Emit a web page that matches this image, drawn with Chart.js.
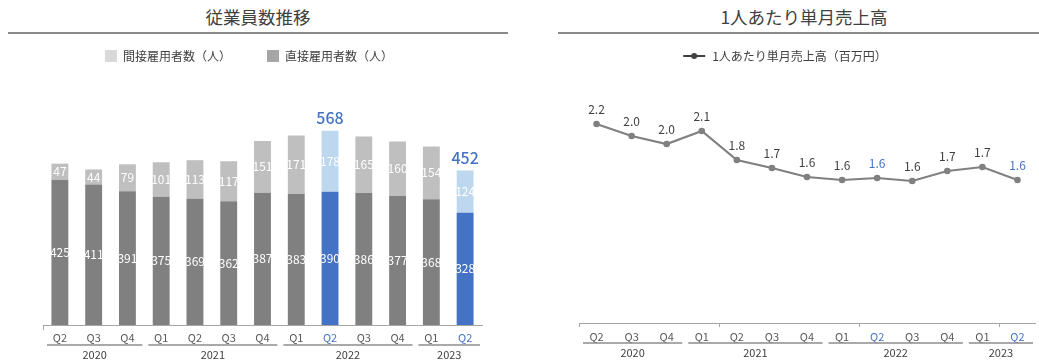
<!DOCTYPE html>
<html>
<head>
<meta charset="utf-8">
<script src="https://cdn.jsdelivr.net/npm/chart.js@4.4.0/dist/chart.umd.min.js"></script>
<style>
  body { margin: 0; background: #fff; width: 1039px; height: 362px; overflow: hidden; position: relative; font-family: "Noto Sans CJK JP", "Noto Sans", sans-serif; }
  .title { position: absolute; top: 5px; height: 24px; line-height: 24px; font-size: 17.5px; color: #404040; text-align: center; }
  .rule { position: absolute; top: 32px; height: 2px; background: #8a8a8a; }
  canvas { position: absolute; top: 0; }
</style>
</head>
<body>
<div class="title" style="left:0; width:516px;">従業員数推移</div>
<div class="rule" style="left:8px; width:500px;"></div>
<div class="title" style="left:570px; width:468px;">1人あたり単月売上高</div>
<div class="rule" style="left:558px; width:481px;"></div>

<canvas id="staffChart" width="493" height="362" style="left:0;"></canvas>
<canvas id="salesChart" width="509" height="362" style="left:530px;"></canvas>

<script>
// データ
const quarters = ['Q2', 'Q3', 'Q4', 'Q1', 'Q2', 'Q3', 'Q4', 'Q1', 'Q2', 'Q3', 'Q4', 'Q1', 'Q2'];
const years = ['2020', '2021', '2022', '2023'];
const yearSpans = [3, 4, 4, 2];
const directStaff = [425, 411, 391, 375, 369, 362, 387, 383, 390, 386, 377, 368, 328];
const indirectStaff = [47, 44, 79, 101, 113, 117, 151, 171, 178, 165, 160, 154, 124];
const salesPerHead = [2.16, 2.04, 1.96, 2.09, 1.80, 1.72, 1.63, 1.60, 1.62, 1.59, 1.69, 1.73, 1.60];

const highlight = [8, 12];   // 強調する四半期
const BLUE = '#4472c4';
const TEXT = '#404040';

Chart.defaults.font.family = '"Noto Sans CJK JP", "Noto Sans", sans-serif';
Chart.defaults.color = TEXT;

// 年のグループラベル
const yearGroups = {
    id: 'yearGroups',
    afterDraw(chart) {
        const { ctx, scales: { x } } = chart;
        const half = (x.getPixelForValue(1) - x.getPixelForValue(0)) / 2;
        let start = 0;
        ctx.save();
        years.forEach((yr, k) => {
            const end = start + yearSpans[k] - 1;
            const x1 = x.getPixelForValue(start) - half + 4;
            const x2 = x.getPixelForValue(end) + half - 2;
            ctx.strokeStyle = '#8c8c8c';
            ctx.lineWidth = 1.5;
            ctx.beginPath();
            ctx.moveTo(x1, x.top + 20);
            ctx.lineTo(x2, x.top + 20);
            ctx.stroke();
            ctx.fillStyle = TEXT;
            ctx.font = '11px "Noto Sans CJK JP"';
            ctx.textAlign = 'center';
            ctx.textBaseline = 'middle';
            ctx.fillText(yr, (x1 + x2) / 2, x.top + 30);
            start = end + 1;
        });
        ctx.restore();
    }
};

// 棒の中の数値と合計
const barLabels = {
    id: 'barLabels',
    afterDatasetsDraw(chart) {
        const { ctx } = chart;
        ctx.save();
        ctx.textAlign = 'center';
        ctx.textBaseline = 'middle';
        chart.data.datasets.forEach((ds, i) => {
            chart.getDatasetMeta(i).data.forEach((bar, j) => {
                ctx.fillStyle = '#ffffff';
                ctx.font = '12px "Noto Sans CJK JP"';
                ctx.fillText(ds.data[j], bar.x, (bar.y + bar.base) / 2);
            });
        });
        const top = chart.getDatasetMeta(1).data;
        highlight.forEach(j => {
            ctx.fillStyle = BLUE;
            ctx.font = '500 16px "Noto Sans CJK JP"';
            ctx.fillText(directStaff[j] + indirectStaff[j], top[j].x, top[j].y - 13);
        });
        ctx.restore();
    }
};

const pointLabels = {
    id: 'pointLabels',
    afterDatasetsDraw(chart) {
        const { ctx } = chart;
        ctx.save();
        ctx.textAlign = 'center';
        ctx.textBaseline = 'middle';
        ctx.font = '12px "Noto Sans CJK JP"';
        chart.getDatasetMeta(0).data.forEach((pt, j) => {
            ctx.fillStyle = highlight.includes(j) ? BLUE : TEXT;
            ctx.fillText(salesPerHead[j].toFixed(1), pt.x, pt.y - 15);
        });
        ctx.restore();
    }
};

const legendColors = ['#a6a6a6', '#d9d9d9'];

new Chart(document.getElementById('staffChart'), {
    type: 'bar',
    data: {
        labels: quarters,
        datasets: [{
            label: '直接雇用者数（人）',
            data: directStaff,
            backgroundColor: quarters.map((q, i) => highlight.includes(i) ? BLUE : '#808080'),
            barPercentage: 0.5,
            categoryPercentage: 1
        }, {
            label: '間接雇用者数（人）',
            data: indirectStaff,
            backgroundColor: quarters.map((q, i) => highlight.includes(i) ? '#bdd7ee' : '#bfbfbf'),
            barPercentage: 0.5,
            categoryPercentage: 1
        }]
    },
    options: {
        responsive: false,
        animation: false,
        layout: { padding: { top: 14, left: 16, right: 11, bottom: 0 } },
        plugins: {
            tooltip: { enabled: false },
            legend: {
                reverse: true,
                labels: {
                    boxWidth: 12,
                    boxHeight: 12,
                    padding: 36,
                    color: TEXT,
                    font: { size: 12 },
                    generateLabels: chart => {
                        const items = Chart.defaults.plugins.legend.labels.generateLabels(chart);
                        items.forEach(it => {
                            it.fillStyle = legendColors[it.datasetIndex];
                            it.strokeStyle = legendColors[it.datasetIndex];
                            it.lineWidth = 0;
                        });
                        return items;
                    }
                }
            }
        },
        scales: {
            x: {
                stacked: true,
                afterFit: s => { s.height = 37; },
                border: { color: '#a6a6a6', width: 1 },
                grid: {
                    offset: true,
                    drawOnChartArea: false,
                    drawTicks: true,
                    tickLength: 5,
                    color: c => c.index === 0 ? '#a6a6a6' : 'rgba(0,0,0,0)'
                },
                ticks: {
                    padding: 1,
                    autoSkip: false,
                    maxRotation: 0,
                    font: { size: 11 },
                    color: c => highlight.includes(c.index) ? BLUE : '#595959'
                }
            },
            y: {
                stacked: true,
                min: 0,
                max: 740,
                afterFit: s => { s.width = 27; },
                ticks: { display: false },
                grid: { display: false },
                border: { display: false }
            }
        }
    },
    plugins: [barLabels, yearGroups]
});

// 凡例用のマーカー
const marker = document.createElement('canvas');
marker.width = 24;
marker.height = 10;
const mctx = marker.getContext('2d');
mctx.strokeStyle = TEXT;
mctx.lineWidth = 2;
mctx.beginPath();
mctx.moveTo(1, 5);
mctx.lineTo(23, 5);
mctx.stroke();
mctx.fillStyle = TEXT;
mctx.beginPath();
mctx.arc(12, 5, 3, 0, Math.PI * 2);
mctx.fill();

new Chart(document.getElementById('salesChart'), {
    type: 'line',
    data: {
        labels: quarters,
        datasets: [{
            label: '1人あたり単月売上高（百万円）',
            data: salesPerHead,
            borderColor: '#808080',
            borderWidth: 2.2,
            pointStyle: 'circle',
            pointRadius: 3.3,
            pointBackgroundColor: '#808080',
            pointBorderColor: '#808080',
            pointBorderWidth: 0,
            tension: 0
        }]
    },
    options: {
        responsive: false,
        animation: false,
        layout: { padding: { top: 40, left: 0, right: 0, bottom: 0 } },
        plugins: {
            tooltip: { enabled: false },
            legend: {
                labels: {
                    usePointStyle: true,
                    pointStyleWidth: 24,
                    padding: 10,
                    color: TEXT,
                    font: { size: 12 },
                    generateLabels: chart => {
                        const items = Chart.defaults.plugins.legend.labels.generateLabels(chart);
                        items.forEach(it => { it.pointStyle = marker; });
                        return items;
                    }
                }
            }
        },
        scales: {
            x: {
                offset: true,
                afterFit: s => { s.height = 39; },
                border: { color: '#a6a6a6', width: 1 },
                grid: {
                    offset: true,
                    drawOnChartArea: false,
                    drawTicks: true,
                    tickLength: 4,
                    color: c => c.index % 4 === 0 ? '#a6a6a6' : 'rgba(0,0,0,0)'
                },
                ticks: {
                    padding: 3,
                    autoSkip: false,
                    maxRotation: 0,
                    font: { size: 11 },
                    color: c => highlight.includes(c.index) ? BLUE : '#595959'
                }
            },
            y: {
                min: 0.17,
                max: 2.68,
                afterFit: s => { s.width = 49; },
                ticks: { display: false },
                grid: { display: false },
                border: { display: false }
            }
        }
    },
    plugins: [pointLabels, yearGroups]
});
</script>
</body>
</html>
